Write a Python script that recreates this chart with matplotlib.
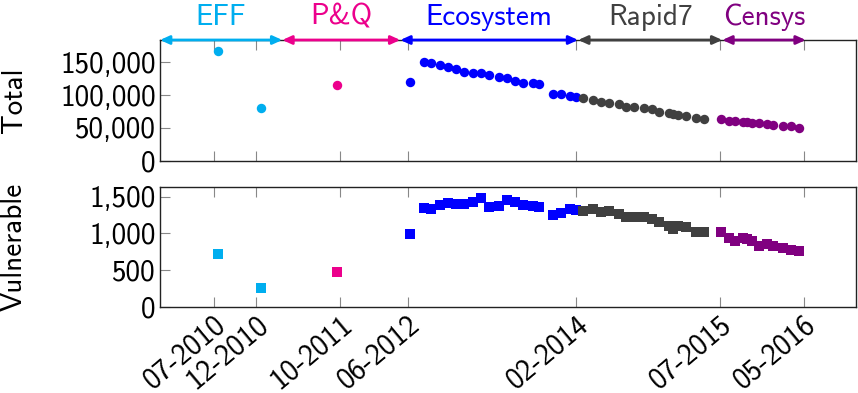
import matplotlib
matplotlib.use("Agg")
import matplotlib.pyplot as plt
from matplotlib.ticker import FuncFormatter

plt.rcParams['font.family'] = ['cmss10', 'DejaVu Sans']
plt.rcParams['axes.formatter.use_mathtext'] = True

# x positions: months since Jan 2010
eff_x = [6.5, 11.6]
eff_total = [167200, 80300]
eff_vuln = [722, 259]

pq_x = [20.6]
pq_total = [115400]
pq_vuln = [481]

eco_x = [29.3, 30.95, 31.7, 32.8, 33.7, 34.7, 35.7, 36.7, 37.7, 38.6, 39.8,
         40.7, 41.7, 42.7, 43.9, 44.6, 46.2, 47.2, 48.2, 49.0]
eco_total = [119500, 150900, 148500, 145400, 142400, 140200, 135700, 133200,
             134100, 130600, 128000, 125600, 121500, 118900, 118400, 116900,
             101200, 101200, 99100, 97600]
eco_vuln = [995, 1345, 1335, 1390, 1421, 1399, 1407, 1426, 1485, 1358, 1380,
            1453, 1426, 1385, 1376, 1362, 1249, 1276, 1331, 1317]

r7_x = [49.8, 51.0, 51.9, 52.9, 54.0, 54.9, 55.8, 57.0, 57.9, 58.8, 60.0,
        60.5, 61.1, 62.0, 63.2, 64.1]
r7_total = [95600, 92000, 89500, 87500, 86000, 82300, 81900, 80800, 78300,
            74700, 72200, 71200, 69700, 68100, 65100, 64000]
r7_vuln = [1308, 1339, 1294, 1308, 1258, 1230, 1230, 1226, 1199, 1158, 1108,
           1063, 1108, 1094, 1026, 1017]

cen_x = [66.1, 67.1, 67.8, 68.7, 69.2, 69.8, 70.6, 71.6, 72.3, 73.5, 74.4, 75.4]
cen_total = [63100, 60500, 60100, 59000, 59000, 57900, 57000, 55500, 54900,
             52900, 52400, 49800]
cen_vuln = [1022, 936, 904, 936, 920, 904, 831, 854, 827, 800, 777, 763]

tick_pos = [6, 11, 21, 29, 49, 66, 76]
tick_labels = ['07-2010', '12-2010', '10-2011', '06-2012', '02-2014', '07-2015', '05-2016']

source_names = ['EFF', 'P&Q', 'Ecosystem', 'Rapid7', 'Censys']
source_bounds = [-0.41, 14.1, 28.1, 49.2, 66.3, 76.2]

c_eff = '#00AEEF'
c_pq = '#EC008C'
c_eco = '#0000FF'
c_r7 = '#404040'
c_cen = '#800080'
colors = [c_eff, c_pq, c_eco, c_r7, c_cen]

series = [(eff_x, eff_total, eff_vuln, c_eff),
          (pq_x, pq_total, pq_vuln, c_pq),
          (eco_x, eco_total, eco_vuln, c_eco),
          (r7_x, r7_total, r7_vuln, c_r7),
          (cen_x, cen_total, cen_vuln, c_cen)]

W, H = 858, 393
fig = plt.figure(figsize=(W / 100, H / 100), dpi=100)
ax1 = fig.add_axes([160 / W, 1 - 160.7 / H, 696 / W, 120.7 / H])
ax2 = fig.add_axes([160 / W, 1 - 307 / H, 696 / W, 120.3 / H])

for x, t, v, c in series:
    ax1.plot(x, t, 'o', color=c, markersize=6.8, markeredgewidth=0, zorder=3)
    ax2.plot(x, v, 's', color=c, markersize=7.2, markeredgewidth=0, zorder=3)

fs = 21
for ax in (ax1, ax2):
    ax.set_xlim(-0.41, 82.16)
    ax.set_xticks(tick_pos)
    ax.tick_params(axis='both', direction='in', length=7.5, width=0.8,
                   color='#888888', labelsize=fs, top=True, right=False, pad=3)
    for s in ax.spines.values():
        s.set_linewidth(1.0)
        s.set_color('#222222')

ax1.set_xticklabels([])
ax2.set_xticklabels(tick_labels, rotation=40, ha='right', rotation_mode='anchor')

ax1.set_ylim(0, 184000)
ax1.set_yticks([0, 50000, 100000, 150000])
ax2.set_ylim(0, 1636)
ax2.set_yticks([0, 500, 1000, 1500])
fmt = FuncFormatter(lambda v, p: f"{v:,.0f}")
ax1.yaxis.set_major_formatter(fmt)
ax2.yaxis.set_major_formatter(fmt)

ax1.set_ylabel('Total', fontsize=fs)
ax2.set_ylabel('Vulnerable', fontsize=fs)
ax1.yaxis.set_label_coords(-0.19, 0.5)
ax2.yaxis.set_label_coords(-0.19, 0.5)

trans = ax1.get_xaxis_transform()
for i, name in enumerate(source_names):
    a, b = source_bounds[i], source_bounds[i + 1]
    ax1.annotate('', xy=(a, 1.0), xytext=(b, 1.0), xycoords=trans, textcoords=trans,
                 arrowprops=dict(arrowstyle='<|-|>,head_length=0.55,head_width=0.25',
                                 color=colors[i], lw=2, shrinkA=0, shrinkB=0),
                 annotation_clip=False, zorder=5)
    ax1.text((a + b) / 2, 1.19, name, transform=trans, ha='center', va='center',
             color=colors[i], fontsize=fs)

fig.savefig('out.png', dpi=100)
